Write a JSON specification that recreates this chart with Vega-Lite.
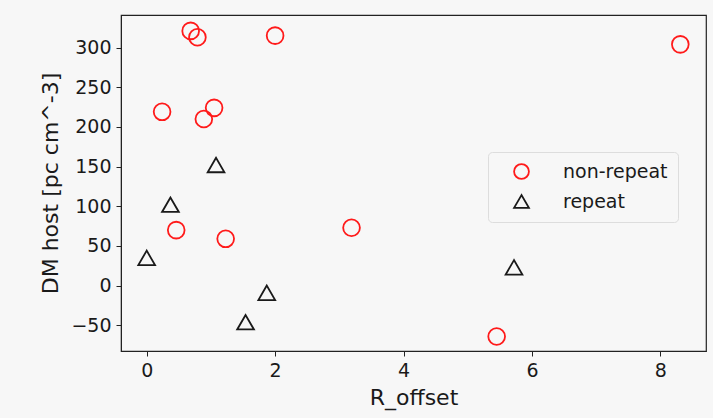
{
  "$schema": "https://vega.github.io/schema/vega-lite/v6.json",
  "width": 585,
  "height": 336,
  "autosize": {"type": "none"},
  "padding": {"left": 121, "top": 15, "right": 7, "bottom": 67},
  "background": "#f7f7f7",
  "config": {
    "font": "DejaVu Sans",
    "view": {"stroke": "#222222", "strokeWidth": 1.2, "fill": "#f7f7f7"},
    "axis": {
      "grid": false,
      "domainColor": "#222222",
      "tickColor": "#222222",
      "tickSize": 5,
      "labelFont": "DejaVu Sans",
      "labelFontSize": 19,
      "labelColor": "#1a1a1a",
      "titleFont": "DejaVu Sans",
      "titleFontSize": 22,
      "titleFontWeight": "normal",
      "titleColor": "#1a1a1a"
    }
  },
  "data": {
    "values": [
      {"R_offset": 0.685, "DM": 321, "type": "non-repeat"},
      {"R_offset": 0.79, "DM": 313, "type": "non-repeat"},
      {"R_offset": 2.0, "DM": 315, "type": "non-repeat"},
      {"R_offset": 8.31, "DM": 304, "type": "non-repeat"},
      {"R_offset": 0.24, "DM": 219, "type": "non-repeat"},
      {"R_offset": 1.05, "DM": 224, "type": "non-repeat"},
      {"R_offset": 0.89, "DM": 210, "type": "non-repeat"},
      {"R_offset": 0.46, "DM": 70, "type": "non-repeat"},
      {"R_offset": 1.23, "DM": 59, "type": "non-repeat"},
      {"R_offset": 3.19, "DM": 73, "type": "non-repeat"},
      {"R_offset": 5.45, "DM": -64, "type": "non-repeat"},
      {"R_offset": 1.08, "DM": 152, "type": "repeat"},
      {"R_offset": 0.37, "DM": 102, "type": "repeat"},
      {"R_offset": 0.0, "DM": 35, "type": "repeat"},
      {"R_offset": 5.72, "DM": 23, "type": "repeat"},
      {"R_offset": 1.87, "DM": -9, "type": "repeat"},
      {"R_offset": 1.54, "DM": -46, "type": "repeat"}
    ]
  },
  "mark": {"type": "point", "filled": false, "strokeWidth": 1.8, "size": 280, "opacity": 1},
  "encoding": {
    "x": {
      "field": "R_offset",
      "type": "quantitative",
      "title": "R_offset",
      "scale": {"domain": [-0.4, 8.71], "nice": false, "zero": false},
      "axis": {"values": [0, 2, 4, 6, 8], "titlePadding": 7, "labelPadding": 5}
    },
    "y": {
      "field": "DM",
      "type": "quantitative",
      "title": "DM host [pc cm^-3]",
      "scale": {"domain": [-82.3, 341], "nice": false, "zero": false},
      "axis": {"values": [-50, 0, 50, 100, 150, 200, 250, 300], "titlePadding": 8, "labelPadding": 5}
    },
    "color": {
      "field": "type",
      "type": "nominal",
      "scale": {"domain": ["non-repeat", "repeat"], "range": ["#ff1a1a", "#1a1a1a"]},
      "legend": {
        "title": null,
        "orient": "none",
        "legendX": 367,
        "legendY": 137,
        "fillColor": "#f7f7f7",
        "strokeColor": "#dddddd",
        "cornerRadius": 4,
        "padding": 10,
        "labelFont": "DejaVu Sans",
        "labelFontSize": 19,
        "labelColor": "#1a1a1a",
        "symbolSize": 220,
        "symbolStrokeWidth": 1.8,
        "symbolOffset": 14,
        "labelOffset": 32,
        "rowPadding": 8,
        "offset": 0
      }
    },
    "shape": {
      "field": "type",
      "type": "nominal",
      "scale": {"domain": ["non-repeat", "repeat"], "range": ["circle", "triangle-up"]}
    }
  }
}
